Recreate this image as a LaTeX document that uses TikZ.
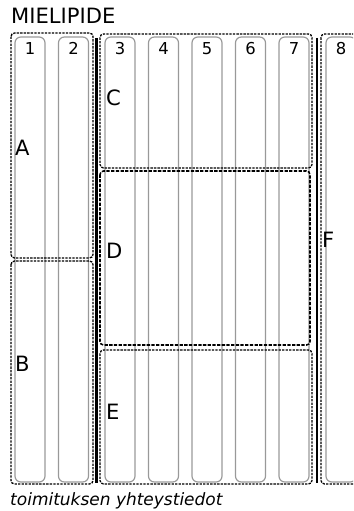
\documentclass[tikz,border=0pt]{standalone}
\usepackage{fontspec}
\setmainfont{DejaVu Sans}
\usetikzlibrary{positioning}

\begin{document}
\begin{tikzpicture}[
  x=0.03cm, y=-0.03cm,
  column/.style={draw=black!40, line width=1pt, rounded corners=5pt},
  group/.style={draw, line width=1.1pt, dash pattern=on 2pt off 1pt, rounded corners=3pt},
  divider/.style={line width=1.8pt},
  colnum/.style={inner sep=0pt, font=\fontsize{14}{16}\selectfont},
  grplabel/.style={anchor=west, inner sep=0pt, font=\fontsize{18}{20}\selectfont}
]
  \useasboundingbox (0,0) rectangle (353,511);
  \clip (0,0) rectangle (353,511);

  \node[anchor=west, inner sep=0pt, font=\fontsize{18}{20}\selectfont] (title) at (11,15.5) {MIELIPIDE};

  % columns
  \foreach \n/\x in {1/15, 2/58.5, 3/105, 4/148.5, 5/192, 6/235.5, 7/279, 8/326} {
    \draw[column] (\x,37) rectangle ++(30,445);
    \node[colnum] (num\n) at (\x+15,48.5) {\n};
  }

  % groups
  \draw[group] (11,33) rectangle (93,258);
  \draw[group] (11,261) rectangle (93,484);
  \draw[group] (100,34) rectangle (312,168);
  \draw[group, line width=1.3pt, dash pattern=on 2.8pt off 1.2pt] (100,171) rectangle (310,345);
  \draw[group] (100,350) rectangle (312,484);
  \draw[group] (321,34) rectangle (370,484);

  \draw[divider] (96.5,38) -- (96.5,483);
  \draw[divider] (317,38) -- (317,483);

  \node[grplabel] (lblA) at (15,148) {A};
  \node[grplabel] (lblB) at (15,364) {B};
  \node[grplabel] (lblC) at (106,98) {C};
  \node[grplabel] (lblD) at (106,251) {D};
  \node[grplabel] (lblE) at (106,412) {E};
  \node[grplabel] (lblF) at (322,240) {F};

  \node[anchor=base west, inner sep=0pt, font=\fontsize{14.5}{16}\selectfont\itshape] (contact) at (10,505) {toimituksen yhteystiedot};
\end{tikzpicture}
\end{document}
